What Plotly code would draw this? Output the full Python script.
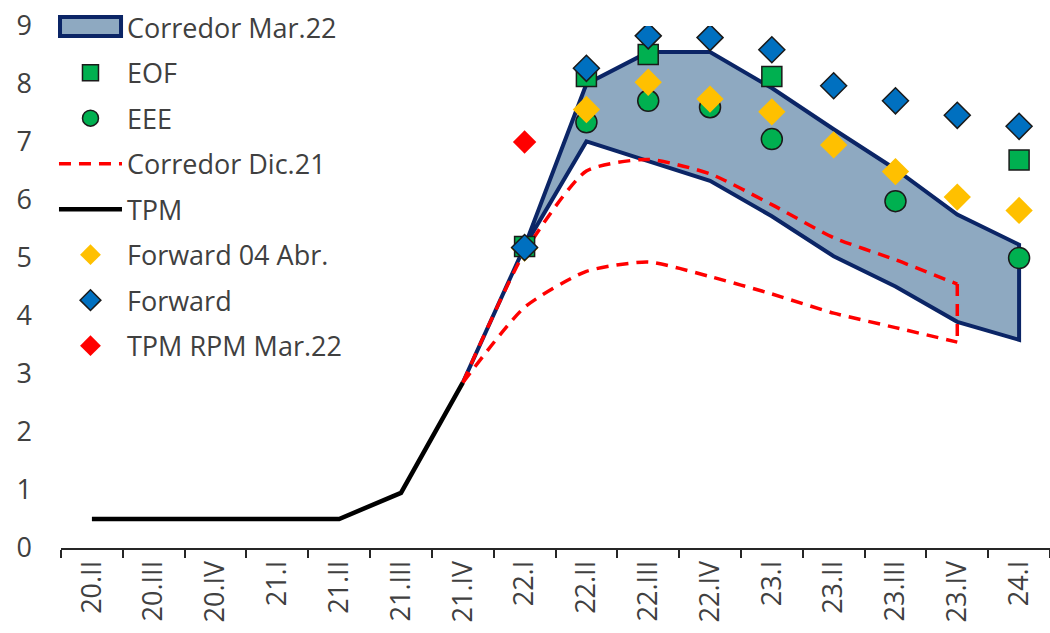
import plotly.graph_objects as go

categories = ["20.II", "20.III", "20.IV", "21.I", "21.II", "21.III", "21.IV",
              "22.I", "22.II", "22.III", "22.IV", "23.I", "23.II", "23.III", "23.IV", "24.I"]

# TPM history
tpm_x = categories[:7]
tpm = [0.5, 0.5, 0.5, 0.5, 0.5, 0.95, 2.85]

# Corredor Mar.22 (band)
band_x = ["21.IV", "22.I", "22.II", "22.III", "22.IV", "23.I", "23.II", "23.III", "23.IV", "24.I"]
band_upper = [2.85, 5.2, 8.0, 8.55, 8.55, 7.93, 7.22, 6.53, 5.75, 5.23]
band_lower = [2.85, 5.2, 7.01, 6.67, 6.33, 5.72, 5.03, 4.51, 3.9, 3.59]

# Corredor Dic.21
dic_x = ["21.IV", "22.I", "22.II", "22.III", "22.IV", "23.I", "23.II", "23.III", "23.IV"]
dic_upper = [2.85, 5.1, 6.5, 6.7, 6.45, 5.92, 5.35, 4.97, 4.55]
dic_lower = [2.85, 4.15, 4.77, 4.93, 4.68, 4.38, 4.05, 3.8, 3.55]

# Markers
eof_x = ["22.I", "22.II", "22.III", "23.I", "24.I"]
eof = [5.2, 8.13, 8.51, 8.13, 6.69]

eee_x = ["22.II", "22.III", "22.IV", "23.I", "23.III", "24.I"]
eee = [7.34, 7.71, 7.6, 7.05, 5.98, 5.0]

fwd04_x = ["22.I", "22.II", "22.III", "22.IV", "23.I", "23.II", "23.III", "23.IV", "24.I"]
fwd04 = [5.17, 7.56, 8.03, 7.74, 7.52, 6.95, 6.49, 6.05, 5.82]

fwd_x = ["22.I", "22.II", "22.III", "22.IV", "23.I", "23.II", "23.III", "23.IV", "24.I"]
fwd = [5.18, 8.27, 8.83, 8.8, 8.59, 7.97, 7.71, 7.46, 7.27]

rpm_x = ["22.I"]
rpm = [7.0]

FONT = "Open Sans"
FS = 27
TXT = "#404040"
NAVY = "#0B2566"
RED = "#FF0000"
BAND_FILL = "#8EA9C1"

fig = go.Figure()

# Band polygon
fig.add_trace(go.Scatter(
    x=band_x + band_x[::-1], y=band_upper + band_lower[::-1],
    mode="lines", fill="toself", fillcolor=BAND_FILL,
    line=dict(color=NAVY, width=4), name="Corredor Mar.22",
    showlegend=False, hoverinfo="skip"))
# legend entry for the band (glyph drawn as a box shape below)
fig.add_trace(go.Scatter(
    x=[None], y=[None], mode="lines", line=dict(color="rgba(0,0,0,0)", width=1),
    name="Corredor Mar.22", legendgroup="g1", legendrank=1))

# Corredor Dic.21 (upper, vertical closing, lower)
dash = "12px,8px"
fig.add_trace(go.Scatter(
    x=dic_x, y=dic_upper, mode="lines",
    line=dict(color=RED, width=3.5, dash=dash, shape="spline", smoothing=0.6),
    name="Corredor Dic.21", legendgroup="g4", legendrank=4))
fig.add_trace(go.Scatter(
    x=dic_x, y=dic_lower, mode="lines",
    line=dict(color=RED, width=3.5, dash=dash, shape="spline", smoothing=0.6),
    name="Corredor Dic.21", legendgroup="g4", showlegend=False))
fig.add_trace(go.Scatter(
    x=[dic_x[-1], dic_x[-1]], y=[dic_upper[-1], dic_lower[-1]], mode="lines",
    line=dict(color=RED, width=3.5, dash=dash),
    name="Corredor Dic.21", legendgroup="g4", showlegend=False))

# TPM
fig.add_trace(go.Scatter(
    x=tpm_x, y=tpm, mode="lines", line=dict(color="#000000", width=4.5),
    name="TPM", legendgroup="g5", legendrank=5))

# EEE circles
fig.add_trace(go.Scatter(
    x=eee_x, y=eee, mode="markers",
    marker=dict(symbol="circle", size=21, color="#00B050", line=dict(color="#1a1a1a", width=1.5)),
    name="EEE", legendgroup="g3", legendrank=3))

# Forward 04 Abr.
fig.add_trace(go.Scatter(
    x=fwd04_x, y=fwd04, mode="markers",
    marker=dict(symbol="diamond", size=21, color="#FFC000", line=dict(width=0)),
    name="Forward 04 Abr.", legendgroup="g6", legendrank=6))

# EOF squares
fig.add_trace(go.Scatter(
    x=eof_x, y=eof, mode="markers",
    marker=dict(symbol="square", size=20, color="#00B050", line=dict(color="#1a1a1a", width=1.5)),
    name="EOF", legendgroup="g2", legendrank=2))

# Forward
fig.add_trace(go.Scatter(
    x=fwd_x, y=fwd, mode="markers",
    marker=dict(symbol="diamond", size=20, color="#0070C0", line=dict(color="#1a1a1a", width=1.5)),
    name="Forward", legendgroup="g7", legendrank=7))

# TPM RPM Mar.22
fig.add_trace(go.Scatter(
    x=rpm_x, y=rpm, mode="markers",
    marker=dict(symbol="diamond", size=18, color=RED, line=dict(width=0)),
    name="TPM RPM Mar.22", legendgroup="g8", legendrank=8))

# legend glyph box for the band
fig.add_shape(type="rect", xref="paper", yref="paper",
              x0=-0.001, x1=0.0607, y0=0.9808, y1=1.0172,
              fillcolor=BAND_FILL, line=dict(color=NAVY, width=4), layer="above")

fig.update_layout(
    width=1050, height=633,
    margin=dict(l=61, r=0, t=26, b=85),
    paper_bgcolor="white", plot_bgcolor="white",
    font=dict(family=FONT, size=FS, color=TXT),
    showlegend=True,
    legend=dict(
        x=-0.0071, y=1.0439, xanchor="left", yanchor="top",
        traceorder="grouped", tracegroupgap=7.4,
        itemwidth=63, itemsizing="trace", maxheight=620,
        bgcolor="rgba(0,0,0,0)", borderwidth=0,
        font=dict(family=FONT, size=FS, color=TXT)),
    xaxis=dict(
        type="category", categoryorder="array", categoryarray=categories,
        range=[-0.5, len(categories) - 0.5],
        showline=True, linecolor="#262626", linewidth=2,
        ticks="outside", tickson="boundaries", ticklen=8, tickwidth=2, tickcolor="#262626",
        tickangle=-90, showgrid=False, zeroline=False, automargin=False,
        tickfont=dict(family=FONT, size=FS, color=TXT)),
    yaxis=dict(
        range=[0, 9], dtick=1, tick0=0, showgrid=False, zeroline=False,
        showline=False, ticks="", ticklabelstandoff=28, automargin=False,
        tickfont=dict(family=FONT, size=FS, color=TXT)),
)

fig.write_html("out.html", config={"displayModeBar": False},
               post_script="document.body.style.margin='0px';")
